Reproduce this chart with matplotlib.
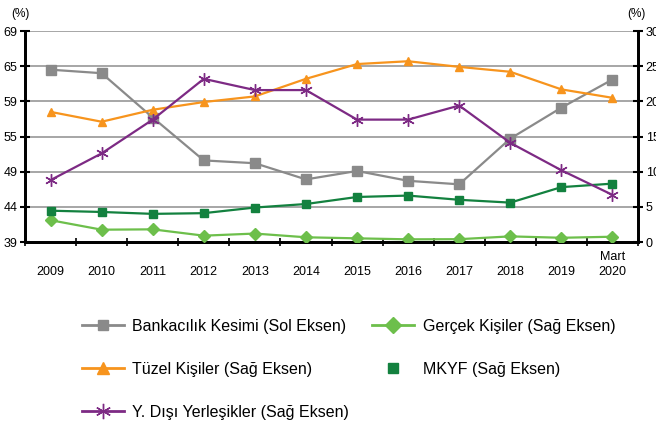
import matplotlib
matplotlib.use("Agg")
import matplotlib.pyplot as plt
from matplotlib.lines import Line2D
from matplotlib import font_manager as fm
import numpy as np

names = {f.name for f in fm.fontManager.ttflist}
fam = ['Liberation Sans Narrow'] if 'Liberation Sans Narrow' in names else ['Liberation Sans']
plt.rcParams['font.family'] = fam + ['DejaVu Sans']

years = ["2009", "2010", "2011", "2012", "2013", "2014", "2015", "2016", "2017", "2018", "2019", "Mart\n2020"]
bankacilik = [63.5, 63.0, 56.7, 50.6, 50.2, 47.9, 49.1, 47.7, 47.2, 53.7, 58.1, 62.1]
tuzel = [18.5, 17.1, 18.8, 19.9, 20.7, 23.2, 25.3, 25.7, 24.9, 24.2, 21.7, 20.5]
ydisi = [8.8, 12.6, 17.4, 23.2, 21.6, 21.6, 17.4, 17.4, 19.4, 14.1, 10.2, 6.7]
mkyf = [4.45, 4.27, 4.0, 4.1, 4.9, 5.4, 6.4, 6.6, 6.0, 5.6, 7.8, 8.3]
gercek = [3.1, 1.75, 1.8, 0.9, 1.2, 0.67, 0.52, 0.38, 0.4, 0.8, 0.6, 0.75]
left_ticks = [39, 44, 49, 54, 59, 64, 69]
left_labels = ["39", "44", "49", "55", "59", "65", "69"]
right_ticks = [0, 5, 10, 15, 20, 25, 30]

c_gray = '#8a8a8a'
c_orange = '#f7941d'
c_purple = '#7d2a84'
c_dgreen = '#13813f'
c_lgreen = '#6dbf4b'

fig = plt.figure(figsize=(6.56, 4.24), dpi=100)
ax = fig.add_axes([25/656, 1-242/424, (638-25)/656, (242-31)/424])
ax2 = ax.twinx()
x = np.arange(len(years))

ax.set_ylim(39, 69)
ax2.set_ylim(0, 30)
ax.set_xlim(-0.5, len(years)-0.5)

for t in left_ticks[1:]:
    ax.axhline(t, color='#a6a6a6', lw=1.4, zorder=0)

ax.plot(x, bankacilik, color=c_gray, lw=1.6, marker='s', ms=7.5, zorder=3)
ax2.plot(x, gercek, color=c_lgreen, lw=1.6, marker='D', ms=6, zorder=3)
ax2.plot(x, mkyf, color=c_dgreen, lw=1.6, marker='s', ms=6, zorder=3)
ax2.plot(x, tuzel, color=c_orange, lw=1.6, marker='^', ms=6, zorder=3)
ax2.plot(x, ydisi, color=c_purple, lw=1.6, marker=(6, 2, 0), ms=9, mew=1.0, zorder=3)

ax.set_yticks(left_ticks)
ax.set_yticklabels(left_labels)
ax2.set_yticks(right_ticks)

for a in (ax, ax2):
    a.spines['top'].set_visible(False)
    for s in ('left', 'right', 'bottom'):
        a.spines[s].set_linewidth(2)
        a.spines[s].set_color('black')
ax.tick_params(axis='y', direction='inout', length=7, width=1.5, labelsize=9, pad=2)
ax2.tick_params(axis='y', direction='inout', length=7, width=1.5, labelsize=9, pad=2)

ax.set_xticks(np.arange(-0.5, len(years)+0.5, 1))
ax.set_xticklabels([])
ax.tick_params(axis='x', which='major', direction='inout', length=6, width=1.2)
ax.set_xticks(x, minor=True)
ax.set_xticklabels(years, minor=True, fontsize=9, va='bottom', linespacing=1.3)
ax.tick_params(axis='x', which='minor', length=0, pad=26)

fig.text(20/656, 1-14/424, "(%)", fontsize=8.5, ha='center', va='center')
fig.text(636/656, 1-14/424, "(%)", fontsize=8.5, ha='center', va='center')

handles = [
    Line2D([], [], color=c_gray, lw=2, marker='s', ms=7),
    Line2D([], [], color=c_orange, lw=2, marker='^', ms=8),
    Line2D([], [], color=c_purple, lw=2, marker=(6, 2, 0), ms=11),
    Line2D([], [], color=c_lgreen, lw=2, marker='D', ms=8),
    Line2D([], [], color=c_dgreen, lw=0, marker='s', ms=7),
]
labels = ["Bankacılık Kesimi (Sol Eksen)", "Tüzel Kişiler (Sağ Eksen)",
          "Y. Dışı Yerleşikler (Sağ Eksen)", "Gerçek Kişiler (Sağ Eksen)",
          "MKYF (Sağ Eksen)"]
fig.legend(handles, labels, ncol=2, loc='upper left', bbox_to_anchor=(82/656, 1-319/424),
           frameon=False, fontsize=11.5, handlelength=2.6, handletextpad=0.55,
           labelspacing=1.75, columnspacing=1.45, borderaxespad=0, borderpad=0)

fig.savefig("out.png", dpi=100)
